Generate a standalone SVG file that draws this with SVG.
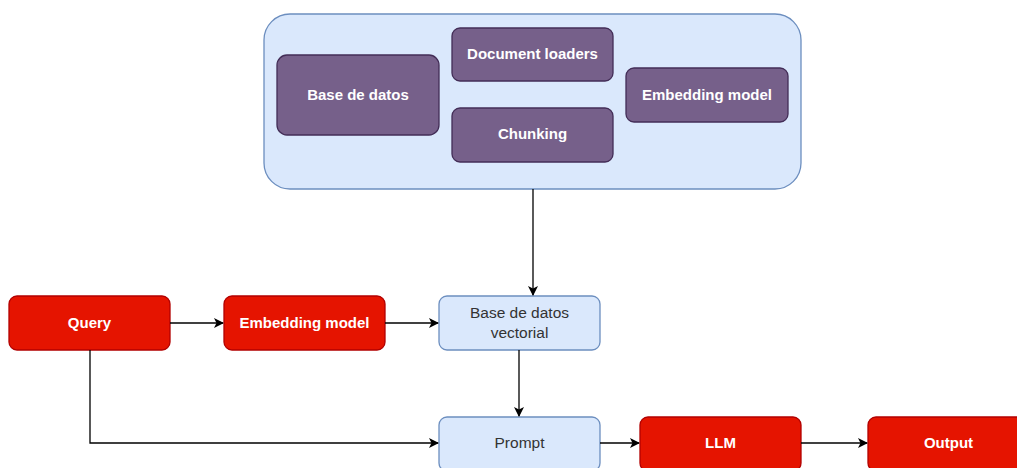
<svg xmlns="http://www.w3.org/2000/svg" width="1017" height="468" viewBox="0 0 1017 468">
  <style>
    .lbl { font-family: "Liberation Sans", Arial, Helvetica, sans-serif; text-anchor: middle; dominant-baseline: central; }
    .w { fill: #ffffff; font-size: 15px; font-weight: bold; }
    .d { fill: #333333; font-size: 15.5px; }
    .purple { fill: #76608a; stroke: #432d57; stroke-width: 1.3; }
    .red { fill: #e51400; stroke: #b20000; stroke-width: 1.3; }
    .blue { fill: #dae8fc; stroke: #6c8ebf; stroke-width: 1.3; }
    .edge { fill: none; stroke: #000000; stroke-width: 1.3; marker-end: url(#arrow); }
  </style>
  <defs>
    <marker id="arrow" viewBox="0 0 10 10" refX="9" refY="5" markerWidth="10" markerHeight="10" markerUnits="userSpaceOnUse" orient="auto">
      <path d="M0,0 L10,5 L0,10 L2.5,5 Z" fill="#000000"/>
    </marker>
  </defs>
  <rect width="1017" height="468" fill="#ffffff"/>

  <!-- ingestion group -->
  <g id="ingestion">
    <rect class="blue" x="264" y="14" width="537" height="175" rx="26"/>
  </g>
  <g id="base-datos">
    <rect class="purple" x="277" y="55" width="162" height="80" rx="10"/>
    <text class="lbl w" x="358" y="94">Base de datos</text>
  </g>
  <g id="document-loaders">
    <rect class="purple" x="452" y="28" width="161" height="53" rx="8"/>
    <text class="lbl w" x="532.5" y="53">Document loaders</text>
  </g>
  <g id="chunking">
    <rect class="purple" x="452" y="108" width="161" height="54" rx="8"/>
    <text class="lbl w" x="532.5" y="133.5">Chunking</text>
  </g>
  <g id="embedding-ingest">
    <rect class="purple" x="626" y="68" width="162" height="54" rx="8"/>
    <text class="lbl w" x="707" y="94">Embedding model</text>
  </g>

  <!-- query pipeline -->
  <g id="query">
    <rect class="red" x="9" y="296" width="161" height="54" rx="8"/>
    <text class="lbl w" x="89.5" y="322">Query</text>
  </g>
  <g id="embedding-query">
    <rect class="red" x="224" y="296" width="161" height="54" rx="8"/>
    <text class="lbl w" x="304.5" y="322">Embedding model</text>
  </g>
  <g id="vector-db">
    <rect class="blue" x="439" y="296" width="161" height="54" rx="8"/>
    <text class="lbl d" x="519.5" y="312.5">Base de datos</text>
    <text class="lbl d" x="519.5" y="332.5">vectorial</text>
  </g>
  <g id="prompt">
    <rect class="blue" x="439" y="417" width="161" height="54" rx="8"/>
    <text class="lbl d" x="519.5" y="442">Prompt</text>
  </g>
  <g id="llm">
    <rect class="red" x="640" y="417" width="161" height="54" rx="8"/>
    <text class="lbl w" x="720.5" y="442">LLM</text>
  </g>
  <g id="output">
    <rect class="red" x="868" y="417" width="161" height="54" rx="8"/>
    <text class="lbl w" x="948.5" y="442">Output</text>
  </g>

  <!-- connectors -->
  <g id="connectors">
    <path class="edge" d="M533,189 L533,295"/>
    <path class="edge" d="M170,323 L223,323"/>
    <path class="edge" d="M385,323 L438,323"/>
    <path class="edge" d="M519,350 L519,416"/>
    <path class="edge" d="M90,350 L90,443 L438,443"/>
    <path class="edge" d="M600,443 L639,443"/>
    <path class="edge" d="M801,443 L867,443"/>
  </g>
</svg>
